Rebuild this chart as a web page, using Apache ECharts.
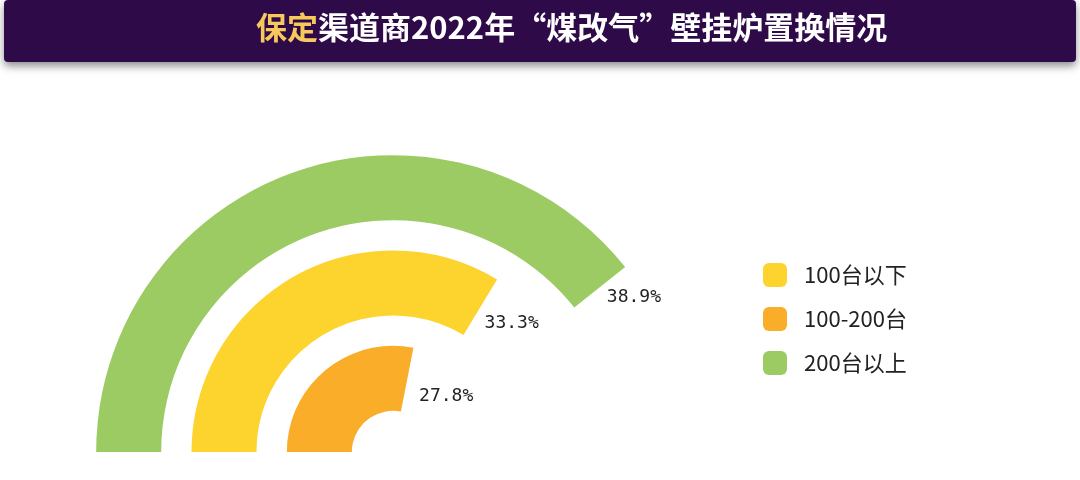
<!DOCTYPE html><html><head><meta charset="utf-8"><script src="https://cdn.jsdelivr.net/npm/echarts@6/dist/echarts.min.js"></script>
<style>body{margin:0}#c{width:1080px;height:480px}</style></head><body><div id="c"></div><script>
const ringCats=['100-200台','100台以下','200台以上'];
const legendNames=['100台以下','100-200台','200台以上'];
const values={'100台以下':33.3,'100-200台':27.8,'200台以上':38.9};
const colors={'100台以下':'#fdd32e','100-200台':'#f9ad29','200台以上':'#9ccb64'};
const labelOffsets={'100台以下':[0,13],'100-200台':[7,16],'200台以上':[4,6]};
const chart=echarts.init(document.getElementById('c'));
const series=legendNames.map(n=>({
  type:'bar',coordinateSystem:'polar',name:n,stack:'s',barWidth:65,
  itemStyle:{color:colors[n]},
  data:ringCats.map(c=>c===n?values[n]:'-'),
  label:{show:true,position:'end',rotate:0,offset:labelOffsets[n],formatter:p=>p.value.toFixed(1)+'%',color:'#222',fontSize:18,fontFamily:'DejaVu Sans Mono'}
}));
chart.setOption({
  animation:false,
  graphic:[{type:'rect',shape:{x:4,y:0,width:1072,height:62,r:4},style:{fill:'#2e0a49',shadowBlur:8,shadowColor:'rgba(0,0,0,0.45)',shadowOffsetY:4}},
   {type:'text',left:256,top:12,style:{text:'{y|保定}{w|渠道商2022年“煤改气”壁挂炉置换情况}',rich:{y:{fill:'#f7c85c',fontSize:31,fontWeight:'bold',fontFamily:'Noto Sans CJK SC'},w:{fill:'#fff',fontSize:31,fontWeight:'bold',fontFamily:'Noto Sans CJK SC'}}}}],
  legend:{data:legendNames,orient:'vertical',left:758,top:258,itemWidth:24,itemHeight:24,itemGap:20,icon:'roundRect',textStyle:{fontSize:22,color:'#222',fontFamily:'Noto Sans CJK SC',padding:[0,0,0,12]}},
  polar:{center:[393,452],radius:[26,312]},
  angleAxis:{type:'value',min:0,max:99,startAngle:180,clockwise:true,show:false},
  radiusAxis:{type:'category',data:ringCats,show:false},
  series
});
</script></body></html>
